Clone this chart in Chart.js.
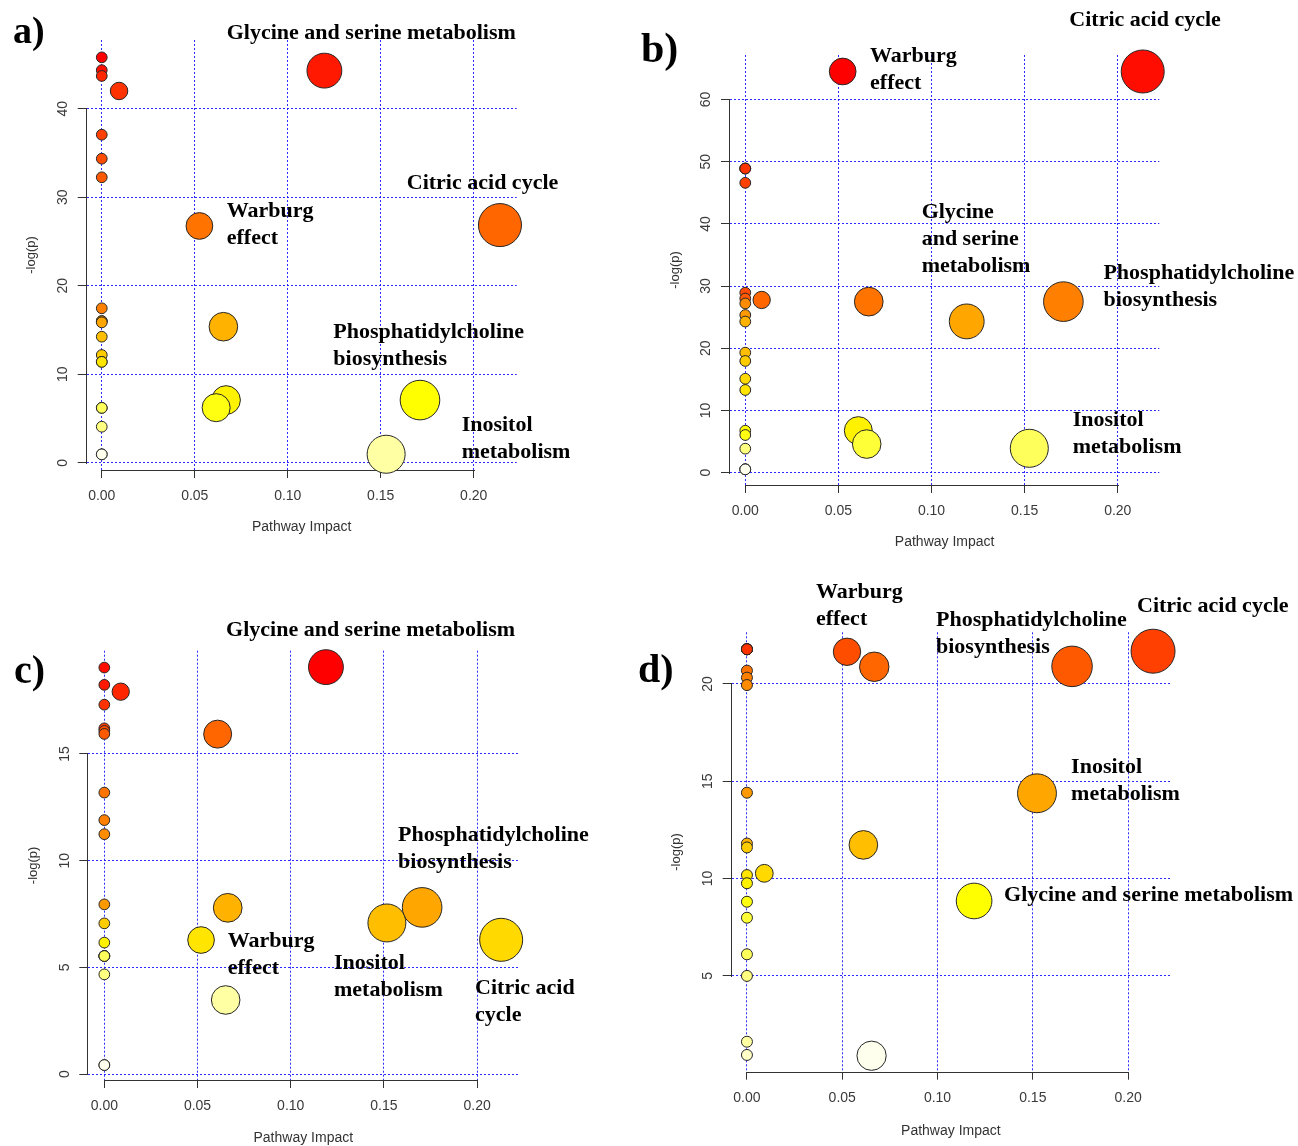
<!DOCTYPE html>
<html>
<head>
<meta charset="utf-8">
<title>Pathway analysis</title>
<script src="https://cdn.jsdelivr.net/npm/chart.js@4.4.1/dist/chart.umd.min.js"></script>
<style>
  html, body { margin: 0; padding: 0; background: #ffffff; }
  #figure { position: relative; width: 1298px; height: 1146px; overflow: hidden; background: #fff; }
  #figure canvas { position: absolute; }
</style>
</head>
<body>
<div id="figure">
  <canvas id="panelA" width="620" height="565" style="left:0px;top:0px"></canvas>
  <canvas id="panelB" width="678" height="565" style="left:620px;top:0px"></canvas>
  <canvas id="panelC" width="620" height="581" style="left:0px;top:565px"></canvas>
  <canvas id="panelD" width="678" height="581" style="left:620px;top:565px"></canvas>
</div>
<script>
// ---- Pathway impact (x) and -log(p) (y), one pair of arrays per panel ----
// 28 pathways per panel; several impact-0 pathways share the same p-value and sit on top of each other.
const impactA = [0, 0, 0, 0, 0, 0, 0, 0, 0, 0, 0, 0, 0, 0, 0, 0, 0, 0, 0,
                 0.0093, 0.0525, 0.1197, 0.2141, 0.0654, 0.0668, 0.0615, 0.1711, 0.1529];
const logpA   = [45.8, 44.35, 43.7, 37.06, 34.35, 32.25, 17.45, 16.0, 16.0, 15.86, 14.24, 12.17, 11.4, 11.4,
                 6.2, 6.2, 4.07, 0.95, 0.95,
                 42.0, 26.75, 44.3, 26.85, 15.37, 7.08, 6.22, 7.08, 0.96];

const impactB = [0, 0, 0, 0, 0, 0, 0, 0, 0, 0, 0, 0, 0, 0, 0, 0, 0, 0, 0,
                 0.0523, 0.2134, 0.0088, 0.0663, 0.1189, 0.1708, 0.0607, 0.0652, 0.1525];
const logpB   = [48.9, 48.9, 48.9, 46.6, 28.94, 28.0, 27.2, 25.35, 24.3, 19.3, 17.96, 15.1, 13.3,
                 6.75, 6.06, 3.86, 0.54, 0.54, 0.54,
                 64.5, 64.5, 27.77, 27.5, 24.32, 27.5, 6.76, 4.6, 3.92];

const impactC = [0, 0, 0, 0, 0, 0, 0, 0, 0, 0, 0, 0, 0, 0, 0, 0, 0, 0, 0,
                 0.0088, 0.0608, 0.0662, 0.0519, 0.0651, 0.1189, 0.1705, 0.1516, 0.2129];
const logpC   = [19.05, 18.24, 17.31, 16.2, 16.08, 15.94, 13.19, 11.9, 11.24, 7.95, 7.06, 6.16,
                 5.53, 5.53, 5.53, 5.53, 4.67, 0.42, 0.42,
                 17.92, 15.93, 7.79, 6.28, 3.47, 19.07, 7.81, 7.08, 6.29];

const impactD = [0, 0, 0, 0, 0, 0, 0, 0, 0, 0, 0, 0, 0, 0, 0, 0, 0, 0, 0,
                 0.0525, 0.0668, 0.0611, 0.0091, 0.0654, 0.1192, 0.1522, 0.1706, 0.2131];
const logpD   = [21.78, 21.78, 21.78, 21.78, 21.78, 20.68, 20.32, 19.94, 14.41, 11.8, 11.6, 10.18, 9.76,
                 8.81, 7.99, 6.11, 5.0, 1.62, 0.94,
                 21.65, 20.88, 11.73, 10.27, 0.9, 8.85, 14.38, 20.9, 21.68];

// ---- Axis limits and tick steps ----
const xLimA = [-0.0081, 0.2231], yLimA = [-0.82, 47.76], yStepA = 10;
const xLimB = [-0.0082, 0.2223], yLimB = [-1.98, 67.15], yStepB = 10;
const xLimC = [-0.0086, 0.2221], yLimC = [-0.28, 19.84], yStepC = 5;
const xLimD = [-0.0080, 0.2220], yLimD = [0.08, 22.65],  yStepD = 5;
const xStep = 0.05;

// ---- Named pathways (anchored in data units) ----
const namesA = [
  { lines: ['Glycine and serine metabolism'], x: 0.0672, y: 48.55 },
  { lines: ['Citric acid cycle'], x: 0.1640, y: 31.55 },
  { lines: ['Warburg', 'effect'], x: 0.0672, y: 28.40 },
  { lines: ['Phosphatidylcholine', 'biosynthesis'], x: 0.1245, y: 14.70 },
  { lines: ['Inositol', 'metabolism'], x: 0.1935, y: 4.20 }
];
const namesB = [
  { lines: ['Citric acid cycle'], x: 0.1740, y: 72.80 },
  { lines: ['Warburg', 'effect'], x: 0.0670, y: 66.90 },
  { lines: ['Glycine', 'and serine', 'metabolism'], x: 0.0947, y: 41.85 },
  { lines: ['Phosphatidylcholine', 'biosynthesis'], x: 0.1923, y: 32.00 },
  { lines: ['Inositol', 'metabolism'], x: 0.1758, y: 8.50 }
];
const namesC = [
  { lines: ['Glycine and serine metabolism'], x: 0.0653, y: 20.78 },
  { lines: ['Phosphatidylcholine', 'biosynthesis'], x: 0.1576, y: 11.20 },
  { lines: ['Warburg', 'effect'], x: 0.0662, y: 6.20 },
  { lines: ['Inositol', 'metabolism'], x: 0.1232, y: 5.21 },
  { lines: ['Citric acid', 'cycle'], x: 0.1989, y: 4.04 }
];
const namesD = [
  { lines: ['Warburg', 'effect'], x: 0.0362, y: 24.72 },
  { lines: ['Phosphatidylcholine', 'biosynthesis'], x: 0.0992, y: 23.28 },
  { lines: ['Citric acid cycle'], x: 0.2047, y: 24.00 },
  { lines: ['Inositol', 'metabolism'], x: 0.1701, y: 15.73 },
  { lines: ['Glycine and serine metabolism'], x: 0.1349, y: 9.16 }
];

// ---- Colour scale: R heat.colors(n), assigned by decreasing -log(p) ----
function hsvToHex(h, s, v) {
  const i = Math.floor(h * 6), f = h * 6 - i;
  const p = v * (1 - s), q = v * (1 - f * s), t = v * (1 - (1 - f) * s);
  let r, g, b;
  switch (i % 6) {
    case 0: r = v; g = t; b = p; break;
    case 1: r = q; g = v; b = p; break;
    case 2: r = p; g = v; b = t; break;
    case 3: r = p; g = q; b = v; break;
    case 4: r = t; g = p; b = v; break;
    default: r = v; g = p; b = q;
  }
  const hx = c => Math.round(c * 255).toString(16).padStart(2, '0');
  return '#' + hx(r) + hx(g) + hx(b);
}
function heatColors(n) {
  const j = Math.floor(n / 4), i = n - j, out = [];
  for (let k = 0; k < i; k++) out.push(hsvToHex(i > 1 ? (k / (i - 1)) / 6 : 0, 1, 1));
  const s0 = 1 - 1 / (2 * j), s1 = 1 / (2 * j);
  for (let k = 0; k < j; k++) out.push(hsvToHex(1 / 6, j > 1 ? s0 + (s1 - s0) * k / (j - 1) : s0, 1));
  return out;
}

// ---- Circle size: radius in x-axis units grows with sqrt(impact) ----
function radiusInUnits(impacts) {
  const sq = impacts.map(v => Math.sqrt(v));
  const lo = Math.min(...sq), hi = Math.max(...sq);
  const maxR = (hi - lo) / 40, minR = (hi - lo) / 160;
  return v => minR + (maxR - minR) * (Math.sqrt(v) - lo) / (hi - lo);
}

const FONT_SANS = '"Liberation Sans", Arial, Helvetica, sans-serif';
const FONT_SERIF = '"Liberation Serif", "Times New Roman", Times, serif';

function buildPanel(p) {
  const n = p.impact.length;
  const A = p.area;
  // draw from most to least significant, so later (paler) circles lie on top
  const order = [...Array(n).keys()].sort((a, b) => p.logp[b] - p.logp[a]);
  const rUnits = radiusInUnits(p.impact);
  // x-axis units are mapped onto the plot width, so circle radii follow the same mapping
  const pxPerUnit = (A.right - A.left) / (p.xLim[1] - p.xLim[0]);
  const points = order.map(k => ({ x: p.impact[k], y: p.logp[k], r: rUnits(p.impact[k]) * pxPerUnit }));
  const fills = heatColors(n);

  const axisLines = {
    id: 'axisLines',
    beforeDatasetsDraw(chart) {
      const { ctx, scales: { x, y }, chartArea } = chart;
      const xt = x.ticks, yt = y.ticks;
      ctx.save();
      ctx.strokeStyle = '#333';
      ctx.lineWidth = 1;
      ctx.setLineDash([]);
      ctx.beginPath();
      const yb = Math.round(chartArea.bottom) + 0.5;
      ctx.moveTo(Math.round(x.getPixelForValue(xt[0].value)), yb);
      ctx.lineTo(Math.round(x.getPixelForValue(xt[xt.length - 1].value)) + 1, yb);
      const xl = Math.round(chartArea.left) - 0.5;
      ctx.moveTo(xl, Math.round(y.getPixelForValue(yt[0].value)) + 1);
      ctx.lineTo(xl, Math.round(y.getPixelForValue(yt[yt.length - 1].value)));
      ctx.stroke();
      ctx.restore();
    }
  };

  const annotations = {
    id: 'annotations',
    afterDraw(chart) {
      const { ctx, scales: { x, y } } = chart;
      ctx.save();
      ctx.fillStyle = '#000';
      ctx.textAlign = 'left';
      ctx.textBaseline = 'middle';
      ctx.font = 'bold 22px ' + FONT_SERIF;
      for (const lab of p.names) {
        const px = x.getPixelForValue(lab.x), py = y.getPixelForValue(lab.y);
        lab.lines.forEach((t, i) => ctx.fillText(t, px, py + i * 27));
      }
      ctx.textBaseline = 'alphabetic';
      ctx.font = 'bold ' + p.letter.size + 'px ' + FONT_SERIF;
      ctx.fillText(p.letter.text, p.letter.x, p.letter.y);
      ctx.restore();
    }
  };

  const gridStyle = (tickLen) => ({
    color: 'rgba(20,20,255,0.9)',
    lineWidth: 1,
    drawOnChartArea: true,
    drawTicks: true,
    tickLength: tickLen,
    tickColor: '#333',
    tickWidth: 1,
    tickBorderDash: []
  });

  return new Chart(document.getElementById(p.id), {
    type: 'bubble',
    data: {
      datasets: [{
        data: points,
        backgroundColor: fills,
        borderColor: '#262626',
        borderWidth: 1,
        clip: false
      }]
    },
    options: {
      responsive: false,
      animation: false,
      events: [],
      layout: { autoPadding: false, padding: { left: 0, top: A.top, right: p.W - A.right, bottom: 0 } },
      plugins: { legend: { display: false }, tooltip: { enabled: false } },
      scales: {
        x: {
          type: 'linear', position: 'bottom',
          min: p.xLim[0], max: p.xLim[1],
          afterFit(s) { s.height = p.H - A.bottom; },
          border: { display: false, dash: [2, 2] },
          grid: gridStyle(8),
          ticks: {
            stepSize: xStep, includeBounds: false, autoSkip: false, maxRotation: 0, minRotation: 0,
            padding: 9.6, color: '#3a3a3a', font: { family: FONT_SANS, size: 14 },
            callback: v => Number(v).toFixed(2)
          },
          title: {
            display: true, text: 'Pathway Impact', color: '#333',
            font: { family: FONT_SANS, size: 14 },
            padding: { top: 0, bottom: (p.H - A.bottom) - p.xTitleGap - 8.4 }
          }
        },
        y: {
          type: 'linear', position: 'left',
          min: p.yLim[0], max: p.yLim[1],
          afterFit(s) { s.width = A.left; },
          border: { display: false, dash: [2, 2] },
          grid: gridStyle(9),
          ticks: {
            stepSize: p.yStep, includeBounds: false, autoSkip: false,
            minRotation: 90, maxRotation: 90, crossAlign: 'center',
            padding: 6.6, color: '#3a3a3a', font: { family: FONT_SANS, size: 14 }
          },
          title: {
            display: true, text: '-log(p)', color: '#333',
            font: { family: FONT_SANS, size: 13 },
            padding: { top: A.left - 55 - 7.8, bottom: 0 }
          }
        }
      }
    },
    plugins: [axisLines, annotations]
  });
}

buildPanel({ id: 'panelA', W: 620, H: 565, area: { left: 86.7, top: 40, right: 516.7, bottom: 470 },
  impact: impactA, logp: logpA, xLim: xLimA, yLim: yLimA, yStep: yStepA, names: namesA,
  xTitleGap: 57, letter: { text: 'a)', x: 13, y: 43, size: 38 } });
buildPanel({ id: 'panelB', W: 678, H: 565, area: { left: 110, top: 55, right: 539.3, bottom: 485 },
  impact: impactB, logp: logpB, xLim: xLimB, yLim: yLimB, yStep: yStepB, names: namesB,
  xTitleGap: 57, letter: { text: 'b)', x: 21, y: 62, size: 42 } });
buildPanel({ id: 'panelC', W: 620, H: 581, area: { left: 88.3, top: 85.7, right: 518.3, bottom: 515 },
  impact: impactC, logp: logpC, xLim: xLimC, yLim: yLimC, yStep: yStepC, names: namesC,
  xTitleGap: 58, letter: { text: 'c)', x: 14, y: 118, size: 40 } });
buildPanel({ id: 'panelD', W: 678, H: 581, area: { left: 111.7, top: 67.3, right: 550, bottom: 506.7 },
  impact: impactD, logp: logpD, xLim: xLimD, yLim: yLimD, yStep: yStepD, names: namesD,
  xTitleGap: 59, letter: { text: 'd)', x: 18, y: 117, size: 40 } });
</script>
</body>
</html>
